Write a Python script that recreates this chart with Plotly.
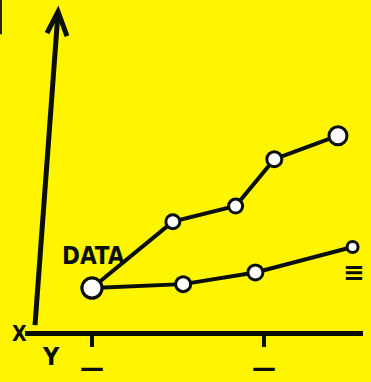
import plotly.graph_objects as go

# sketch data (x in tick units, y in arbitrary units)
upper_x = [1, 1.94, 2.67, 3.12, 3.86]
upper_y = [1.1, 2.8, 3.2, 4.4, 5.0]
lower_x = [1, 2.06, 2.90, 4.03]
lower_y = [1.1, 1.2, 1.5, 2.15]
tick_vals = [1, 3]
tick_text = ["<b>\u2014</b>", "<b>\u2014</b>"]

YELLOW = "#FFF500"
INK = "#0a0f0a"
HAND = "Liberation Sans Narrow, DejaVu Sans Condensed, DejaVu Sans"

X0 = 1 - 67 / 86


def dx(px):
    return X0 + (px - 25) / 86


def dy(py):
    return (339 - py) / 40


def px_x(px):
    # paper fraction of the plot area, allowed outside [0, 1]
    return (px - 25) / 338


def px_y(py):
    return (339 - py) / 339


fig = go.Figure()
fig.add_trace(go.Scatter(
    x=lower_x, y=lower_y, mode="lines+markers",
    line=dict(color=INK, width=4),
    marker=dict(color="white", opacity=1, size=[20, 15, 15, 11],
                line=dict(color=INK, width=3)),
    cliponaxis=False, showlegend=False, hoverinfo="skip"))
fig.add_trace(go.Scatter(
    x=upper_x, y=upper_y, mode="lines+markers",
    line=dict(color=INK, width=4),
    marker=dict(color="white", opacity=1, size=[20, 14, 14, 15, 18],
                line=dict(color=INK, width=3)),
    cliponaxis=False, showlegend=False, hoverinfo="skip"))

# slanted hand-drawn y axis with open arrowhead
fig.add_shape(type="line", xref="x", yref="y",
              x0=dx(35), y0=dy(333), x1=dx(58), y1=dy(13),
              line=dict(color=INK, width=5))
fig.add_shape(type="path", xref="x", yref="y",
              path=f"M {dx(47)} {dy(34)} L {dx(58)} {dy(12)} L {dx(67)} {dy(37)}",
              line=dict(color=INK, width=5))
# dark strip on the note's left edge
fig.add_shape(type="line", xref="paper", yref="paper",
              x0=px_x(1), y0=px_y(0), x1=px_x(1), y1=px_y(35),
              line=dict(color="#222", width=2))

fig.add_annotation(x=dx(93), y=dy(262), text="<b>DATA</b>", showarrow=False,
                   font=dict(family=HAND, size=24, color=INK))
fig.add_annotation(x=dx(354), y=dy(279), text="<b>\u2261</b>", showarrow=False,
                   font=dict(family="DejaVu Sans", size=26, color=INK))
fig.add_annotation(xref="paper", yref="paper", x=px_x(19), y=px_y(342),
                   xanchor="center", yanchor="middle",
                   text="<b>X</b>", showarrow=False,
                   font=dict(family=HAND, size=21, color=INK))
fig.add_annotation(xref="paper", yref="paper", x=px_x(51), y=px_y(365),
                   xanchor="center", yanchor="middle",
                   text="<b>Y</b>", showarrow=False,
                   font=dict(family=HAND, size=25, color=INK))

fig.update_xaxes(range=[X0, X0 + 338 / 86], showgrid=False, zeroline=False,
                 showline=True, linecolor=INK, linewidth=5,
                 ticks="outside", ticklen=11, tickwidth=4, tickcolor=INK,
                 tickvals=tick_vals, ticktext=tick_text,
                 tickfont=dict(family="DejaVu Sans", size=24, color=INK))
fig.update_yaxes(range=[0, 339 / 40], visible=False)
fig.update_layout(width=371, height=382,
                  margin=dict(l=25, r=8, t=0, b=43),
                  paper_bgcolor=YELLOW, plot_bgcolor=YELLOW)
fig.write_html("out.html", config={"displayModeBar": False},
               post_script="document.body.style.margin='0';")
